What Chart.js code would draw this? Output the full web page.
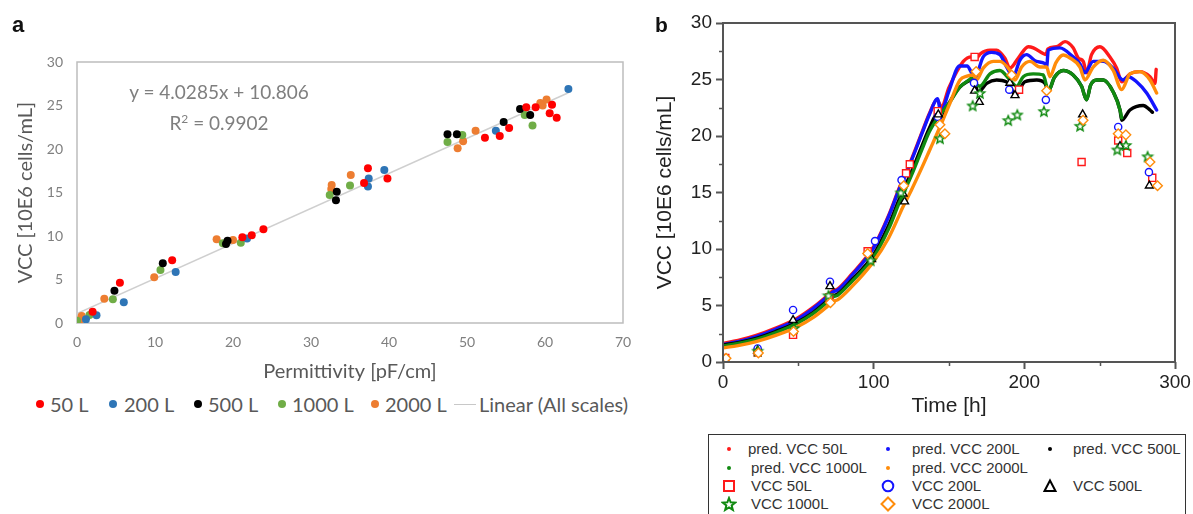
<!DOCTYPE html>
<html>
<head>
<meta charset="utf-8">
<title>VCC vs permittivity and VCC over time</title>
<script src="https://cdn.jsdelivr.net/npm/chart.js@4.4.1/dist/chart.umd.min.js"></script>
<style>
  html, body { margin: 0; padding: 0; background: #fff; }
  body { width: 1193px; height: 514px; position: relative; overflow: hidden; }
  .wrap { position: absolute; }
  #wrapA { left: 0; top: 0; width: 650px; height: 390px; }
  #wrapB { left: 645px; top: 0; width: 548px; height: 425px; }
  .panel { position: absolute; font-family: "Liberation Sans", Arial, sans-serif; font-weight: bold; color: #111; line-height: 1; }
  #eq { position: absolute; left: 119px; width: 200px; top: 78px; text-align: center;
        font-family: Lato, sans-serif; font-size: 19px; color: #7f7f7f; line-height: 27px; }
  .legA { position: absolute; font-family: Lato, sans-serif; font-size: 20px; color: #595959;
          line-height: 24px; top: 392px; white-space: nowrap; }
  .legA .dot { position: absolute; width: 8px; height: 8px; border-radius: 50%; top: 8px; }
  .legA .ln { position: absolute; width: 22px; height: 0; border-top: 1.5px solid #c8c8c8; top: 12px; }
  #legB { position: absolute; left: 708px; top: 434px; width: 478px; height: 100px;
          border: 1.5px solid #333; box-sizing: border-box; }
  .legB { position: absolute; font-family: "Liberation Sans", Arial, sans-serif; font-size: 15px;
          color: #333; white-space: nowrap; line-height: 18px; }
  .legB svg { position: absolute; }
</style>
</head>
<body>

<div class="wrap" id="wrapA"><canvas id="chartA" width="650" height="390"></canvas></div>
<div class="wrap" id="wrapB"><canvas id="chartB" width="548" height="425"></canvas></div>
<div class="panel" style="left:12px; top:14px; font-size:22px;">a</div>
<div class="panel" style="left:655px; top:14px; font-size:21px;">b</div>
<div id="eq"></div>
<div id="legendA"></div>
<div id="legB"></div>
<div id="legendB"></div>

<script>
// ---------------- panel a: VCC against permittivity, per bioreactor scale ----------------
const scaleNames  = ['50 L', '200 L', '500 L', '1000 L', '2000 L'];
const scaleColors = ['#ff0000', '#2e75b6', '#000000', '#70ad47', '#ed7d31'];

const perm50  = [2.0, 5.5, 12.2, 21.2, 22.4, 23.9, 36.8, 37.3, 39.8, 52.3, 54.2, 55.4, 57.6, 58.8, 60.6, 60.9, 61.5];
const vcc50   = [1.3, 4.63, 7.2, 9.85, 10.1, 10.77, 16.1, 17.8, 16.6, 21.3, 21.5, 22.4, 24.8, 24.8, 24.1, 25.1, 23.6];

const perm200 = [1.15, 2.5, 6.0, 12.65, 21.8, 37.3, 37.4, 39.4, 53.7, 63.0];
const vcc200  = [0.42, 0.88, 2.38, 5.86, 9.7, 15.7, 16.6, 17.6, 22.1, 26.9];

const perm500 = [4.8, 11.0, 19.1, 19.3, 33.2, 33.3, 47.5, 48.7, 54.7, 56.8, 58.1];
const vcc500  = [3.71, 6.86, 9.08, 9.46, 14.1, 15.1, 21.7, 21.7, 23.1, 24.6, 23.9];

const perm1000 = [0.0, 1.6, 4.6, 10.7, 18.7, 21.0, 32.4, 35.0, 47.5, 49.4, 57.4, 58.4];
const vcc1000  = [0.26, 0.92, 2.72, 6.09, 9.16, 9.23, 14.7, 15.8, 20.8, 21.6, 23.9, 22.7];

const perm2000 = [0.4, 0.6, 3.5, 9.9, 17.9, 20.0, 32.6, 32.65, 35.1, 48.8, 49.5, 51.1, 59.4, 59.7, 60.2];
const vcc2000  = [0.35, 0.8, 2.8, 5.25, 9.62, 9.54, 15.4, 15.85, 17.0, 20.1, 20.9, 22.1, 25.3, 25.0, 25.7];

const permSets = [perm50, perm200, perm500, perm1000, perm2000];
const vccSets  = [vcc50, vcc200, vcc500, vcc1000, vcc2000];

// linear fit over all scales (coefficients reported in 10E5 cells/mL)
const fitSlope = 4.0285, fitIntercept = 10.806, fitR2 = 0.9902;
const fitUnit = 0.1;              // 10E5 -> 10E6 cells/mL
const fitRange = [0, 63];         // permittivity span of the data

const permTicks = { min: 0, max: 70, step: 10 };
const vccTicksA = { min: 0, max: 30, step: 5 };

// ---------------- panel b: predicted and measured VCC over culture time ----------------
const predNames  = ['pred. VCC 50L', 'pred. VCC 200L', 'pred. VCC 500L', 'pred. VCC 1000L', 'pred. VCC 2000L'];
const measNames  = ['VCC 50L', 'VCC 200L', 'VCC 500L', 'VCC 1000L', 'VCC 2000L'];
const runColors  = ['#ff1a1a', '#1414ff', '#000000', '#118a11', '#ff8c0a'];

const tPred50 = [0, 10, 22, 35, 49, 60, 70, 73, 76, 85, 100, 110, 117, 119, 125, 132, 137, 142, 145, 150, 159.5, 165, 168.3, 171, 177.2, 181.6, 187, 190.4, 196, 202.6, 206, 212.5, 214.5, 215.5, 221.4, 227, 232.4, 235.8, 239.1, 241.3, 244.6, 250.2, 256.8, 261.3, 264.6, 270.1, 276.7, 283.4, 286.7, 287.5];
const vPred50 = [1.65, 1.9, 2.35, 3.0, 3.85, 4.85, 5.95, 6.3, 6.45, 7.7, 10.2, 13.0, 15.4, 16.0, 17.9, 20.3, 22.0, 23.2, 22.6, 24.3, 26.6, 27.0, 26.9, 27.3, 27.6, 27.6, 26.9, 26.0, 26.9, 27.9, 27.8, 27.3, 27.2, 27.7, 27.9, 28.35, 27.8, 26.9, 26.6, 25.6, 27.2, 27.9, 27.0, 26.0, 24.8, 25.5, 25.7, 25.25, 24.66, 25.9];

const tPred200 = [0, 10, 22, 35, 49, 60, 70, 73, 76, 85, 100, 110, 117, 119, 125, 132, 137, 142.5, 144.5, 150, 157, 162, 165, 167.2, 172.7, 178.3, 183.8, 188.3, 192.6, 197, 201.5, 208, 213.7, 214.8, 215.9, 223.6, 232.4, 236.9, 240.2, 245.7, 252.4, 259, 265.6, 269, 274.5, 281.2, 287.8];
const vPred200 = [1.55, 1.8, 2.25, 2.9, 3.75, 4.75, 5.85, 6.2, 6.35, 7.6, 10.1, 12.9, 15.3, 15.9, 17.8, 20.2, 21.9, 23.3, 22.1, 24.0, 26.2, 26.2, 25.6, 25.2, 27.0, 27.4, 27.2, 26.1, 25.25, 26.7, 27.2, 26.6, 26.4, 26.1, 27.6, 27.8, 27.0, 26.4, 25.6, 26.6, 26.6, 26.0, 24.96, 25.25, 24.8, 23.8, 22.3];

const tPred500 = [0, 10, 22, 35, 49, 60, 70, 73, 76, 85, 100, 110, 117, 119, 125, 132, 137, 142, 145, 150, 157, 162, 166.1, 169.4, 175, 181.6, 188, 190.4, 193.8, 200.4, 208.2, 213.7, 216, 220, 225.8, 232.4, 238, 241.3, 244, 248, 252.4, 259, 263.5, 264.6, 270.1, 278.9, 283.4, 285];
const vPred500 = [1.5, 1.72, 2.1, 2.7, 3.5, 4.4, 5.5, 5.85, 6.0, 7.2, 9.5, 12.1, 14.4, 15.0, 16.8, 19.1, 20.7, 21.9, 21.6, 22.9, 24.3, 24.8, 25.0, 23.9, 24.66, 24.96, 24.8, 24.5, 23.6, 24.8, 24.96, 24.66, 24.0, 25.2, 25.8, 25.4, 24.4, 23.2, 24.5, 24.96, 24.96, 23.9, 22.3, 21.4, 22.3, 22.7, 22.3, 22.1];

const tPred1000 = [0, 10, 22, 35, 49, 60, 70, 73, 76, 85, 100, 110, 117, 119, 125, 132, 137, 144, 150.6, 157, 163.3, 166.1, 167.2, 170.5, 177.2, 183.8, 190.4, 194.9, 199.3, 205.9, 212.5, 216, 220, 225.8, 232.4, 238, 241.3, 244, 248, 252.4, 259, 263.5, 264.6];
const vPred1000 = [1.42, 1.65, 2.0, 2.6, 3.4, 4.3, 5.4, 5.75, 5.9, 7.05, 9.3, 11.8, 14.1, 14.7, 16.5, 18.8, 20.4, 21.9, 23.0, 24.3, 24.96, 25.25, 24.8, 24.4, 25.5, 25.8, 24.96, 24.4, 25.25, 25.5, 25.4, 24.0, 25.2, 25.8, 25.4, 24.4, 23.2, 24.5, 24.96, 24.96, 23.9, 22.3, 21.6];

const tPred2000 = [0, 10, 22, 35, 49, 60, 70, 73, 76, 85, 100, 110, 117, 119, 125, 132, 137, 144, 150.6, 157.3, 162, 166.1, 168.3, 172.7, 179.4, 183.8, 190.4, 193.8, 198.2, 203.7, 210.4, 214.8, 217, 221, 225.8, 230.3, 236.9, 240.2, 245.7, 252.4, 259, 264.6, 270.1, 276.7, 283.4, 287.8];
const vPred2000 = [1.25, 1.45, 1.8, 2.35, 3.1, 3.95, 5.0, 5.35, 5.5, 6.6, 8.9, 11.0, 13.0, 13.6, 15.2, 17.2, 18.7, 20.8, 22.9, 24.96, 25.3, 25.4, 24.96, 26.0, 26.6, 26.6, 25.8, 24.96, 26.1, 26.6, 26.1, 26.1, 25.25, 26.5, 27.17, 26.9, 26.1, 24.96, 26.1, 26.7, 25.8, 24.1, 25.5, 25.7, 24.96, 23.8];

const tMeas50 = [1.5, 23, 46.5, 70.5, 96, 121.5, 124, 142.5, 167, 196.5, 238, 262.3, 268.3, 284.9];
const vMeas50 = [0.35, 0.85, 2.4, 5.7, 9.8, 16.7, 17.5, 22.2, 27.0, 24.1, 17.7, 19.6, 18.5, 16.3];

const tMeas200 = [23, 46.5, 71, 100.9, 118.5, 142.5, 166.6, 190, 214.3, 262.3, 282.7];
const vMeas200 = [1.2, 4.6, 7.1, 10.7, 16.1, 21.7, 24.7, 24.1, 23.2, 20.8, 16.8];

const tMeas500 = [23, 46.5, 71, 98.6, 119.5, 120.5, 142.9, 167, 170.1, 190.4, 193.8, 238.7, 263.5, 283];
const vMeas500 = [1.0, 3.7, 6.7, 9.1, 14.9, 14.2, 21.9, 24.0, 23.0, 24.7, 23.6, 21.9, 19.1, 15.6];

const tMeas1000 = [23, 47, 70, 98, 118, 144, 165.7, 170.5, 189.3, 195.3, 213, 237, 261.7, 267.4, 281.8];
const vMeas1000 = [1.0, 3.0, 5.9, 9.0, 15.0, 19.8, 22.7, 23.8, 21.4, 21.9, 22.2, 20.9, 18.8, 19.2, 18.2];

const tMeas2000 = [2, 23.5, 46.8, 71.3, 96, 120, 144, 147.3, 168, 191.6, 214.8, 239, 262.3, 267.4, 283.4, 288.4];
const vMeas2000 = [0.33, 0.8, 2.7, 5.25, 9.6, 15.6, 21.0, 20.2, 25.7, 25.4, 24.0, 21.4, 20.2, 20.1, 17.7, 15.6];

const tPredSets = [tPred50, tPred200, tPred500, tPred1000, tPred2000];
const vPredSets = [vPred50, vPred200, vPred500, vPred1000, vPred2000];
const tMeasSets = [tMeas50, tMeas200, tMeas500, tMeas1000, tMeas2000];
const vMeasSets = [vMeas50, vMeas200, vMeas500, vMeas1000, vMeas2000];

const timeTicks = { min: 0, max: 300, step: 100 };
const vccTicksB = { min: 0, max: 30, step: 5 };

// ---------------------------------------------------------------------------------------
Chart.defaults.animation = false;
Chart.defaults.responsive = false;
Chart.defaults.devicePixelRatio = 1;

const toPoints = (xs, ys) => xs.map((x, i) => ({ x: x, y: ys[i] }));

// ---- panel a chart ----
const frameA = {
  id: 'frameA',
  beforeDatasetsDraw(chart) {
    const { ctx, chartArea: a } = chart;
    ctx.save();
    ctx.strokeStyle = '#bdbdbd';
    ctx.lineWidth = 1.5;
    ctx.strokeRect(a.left, a.top, a.right - a.left, a.bottom - a.top);
    ctx.restore();
  }
};

const fitLine = fitRange.map(x => ({ x: x, y: (fitSlope * x + fitIntercept) * fitUnit }));

const datasetsA = scaleNames.map((name, i) => ({
  label: name,
  data: toPoints(permSets[i], vccSets[i]),
  backgroundColor: scaleColors[i],
  borderColor: scaleColors[i],
  pointRadius: 4,
  pointHoverRadius: 4,
  borderWidth: 0,
  order: 1
}));
datasetsA.push({
  label: 'Linear (All scales)',
  data: fitLine,
  showLine: true,
  borderColor: '#cfcfcf',
  borderWidth: 1.5,
  pointRadius: 0,
  order: 10
});

new Chart(document.getElementById('chartA'), {
  type: 'scatter',
  data: { datasets: datasetsA },
  options: {
    layout: { padding: { left: 0, right: 27, top: 62, bottom: 0 } },
    plugins: { legend: { display: false }, tooltip: { enabled: false } },
    scales: {
      x: {
        type: 'linear', min: permTicks.min, max: permTicks.max,
        ticks: { stepSize: permTicks.step, color: '#7f7f7f', font: { family: 'Lato', size: 14 }, padding: 11 },
        grid: { display: false, drawTicks: false },
        border: { display: false },
        title: { display: true, text: 'Permittivity [pF/cm]', color: '#595959',
                 font: { family: 'Lato', size: 20 }, padding: { top: 0, bottom: 6 } },
        afterFit(s) { s.height = 67; }
      },
      y: {
        type: 'linear', min: vccTicksA.min, max: vccTicksA.max,
        ticks: { stepSize: vccTicksA.step, color: '#7f7f7f', font: { family: 'Lato', size: 14 }, padding: 14 },
        grid: { display: false, drawTicks: false },
        border: { display: false },
        title: { display: true, text: 'VCC [10E6 cells/mL]', color: '#595959',
                 font: { family: 'Lato', size: 20 }, padding: { top: 14, bottom: 0 } },
        afterFit(s) { s.width = 77; }
      }
    }
  },
  plugins: [frameA]
});

document.getElementById('eq').innerHTML =
  'y = ' + fitSlope + 'x + ' + fitIntercept + '<br>R<sup style="font-size:12px;vertical-align:7px;">2</sup> = ' + fitR2;

// legend of panel a
(function () {
  const host = document.getElementById('legendA');
  const dotX = [36, 109, 194, 278, 371];
  const textX = [50, 124, 208, 292, 385];
  scaleNames.forEach((name, i) => {
    const d = document.createElement('div');
    d.className = 'legA';
    d.style.left = '0px';
    d.innerHTML = '<span class="dot" style="left:' + dotX[i] + 'px;background:' + scaleColors[i] +
                  '"></span><span style="position:absolute;left:' + textX[i] + 'px;">' + name + '</span>';
    host.appendChild(d);
  });
  const d = document.createElement('div');
  d.className = 'legA';
  d.style.left = '0px';
  d.innerHTML = '<span class="ln" style="left:454px;"></span><span style="position:absolute;left:479px;">' +
                datasetsA[datasetsA.length - 1].label + '</span>';
  host.appendChild(d);
})();

// ---- panel b chart ----
const frameColor = '#555';

function starImage(color, r) {
  const s = Math.ceil(r * 2 + 4);
  const c = document.createElement('canvas');
  c.width = s; c.height = s;
  const g = c.getContext('2d');
  g.translate(s / 2, s / 2 + 0.6);
  g.beginPath();
  for (let k = 0; k < 10; k++) {
    const ang = -Math.PI / 2 + k * Math.PI / 5;
    const rr = k % 2 ? r * 0.45 : r;
    g.lineTo(rr * Math.cos(ang), rr * Math.sin(ang));
  }
  g.closePath();
  g.fillStyle = '#fff';
  g.fill();
  g.strokeStyle = color;
  g.lineWidth = 1.5;
  g.stroke();
  return c;
}

const axesB = {
  id: 'axesB',
  afterDraw(chart) {
    const { ctx, chartArea: a, scales: { x, y } } = chart;
    ctx.save();
    ctx.strokeStyle = frameColor;
    ctx.lineWidth = 1.5;
    ctx.beginPath();
    for (let v = vccTicksB.min + vccTicksB.step / 2; v < vccTicksB.max; v += vccTicksB.step) {
      const py = Math.round(y.getPixelForValue(v)) + 0.5;
      ctx.moveTo(a.left - 4, py); ctx.lineTo(a.left, py);
    }
    for (let t = timeTicks.min + timeTicks.step / 2; t < timeTicks.max; t += timeTicks.step) {
      const px = Math.round(x.getPixelForValue(t)) + 0.5;
      ctx.moveTo(px, a.bottom); ctx.lineTo(px, a.bottom + 4);
    }
    ctx.stroke();
    ctx.lineWidth = 2;
    ctx.strokeRect(a.left, a.top, a.right - a.left, a.bottom - a.top);
    ctx.restore();
  }
};

const markerStyles = ['rect', 'circle', 'triangle', 'star', 'rectRot'];
const markerRadius = [5, 3.6, 4.6, 5, 4.8];

const datasetsB = [];
predNames.forEach((name, i) => {
  datasetsB.push({
    label: name,
    data: toPoints(tPredSets[i], vPredSets[i]),
    showLine: true,
    borderColor: runColors[i],
    borderWidth: 3.4,
    pointRadius: 0,
    cubicInterpolationMode: 'monotone',
    borderCapStyle: 'round',
    borderJoinStyle: 'round',
    order: 20 - [0, 1, 2, 3, 4][i]
  });
});
measNames.forEach((name, i) => {
  const style = markerStyles[i] === 'star' ? starImage(runColors[i], markerRadius[i]) : markerStyles[i];
  datasetsB.push({
    label: name,
    data: toPoints(tMeasSets[i], vMeasSets[i]),
    showLine: false,
    pointStyle: style,
    pointRadius: markerRadius[i],
    pointHoverRadius: markerRadius[i],
    pointBorderColor: runColors[i],
    pointBackgroundColor: '#ffffff',
    pointBorderWidth: 1.4,
    borderColor: runColors[i],
    order: 5 - i
  });
});

const tickFontB = { family: '"Liberation Sans", Arial, sans-serif', size: 19 };
const titleFontB = { family: '"Liberation Sans", Arial, sans-serif', size: 21 };

new Chart(document.getElementById('chartB'), {
  type: 'scatter',
  data: { datasets: datasetsB },
  options: {
    layout: { padding: { left: 0, right: 18, top: 23, bottom: 0 } },
    plugins: { legend: { display: false }, tooltip: { enabled: false } },
    scales: {
      x: {
        type: 'linear', min: timeTicks.min, max: timeTicks.max,
        ticks: { stepSize: timeTicks.step, color: '#222', font: tickFontB, padding: 2 },
        grid: { display: true, drawOnChartArea: false, drawTicks: true, tickLength: 7, tickWidth: 2, tickColor: frameColor },
        border: { display: false },
        title: { display: true, text: 'Time [h]', color: '#222', font: titleFontB, padding: { top: 0, bottom: 6 } },
        afterFit(s) { s.height = 63; }
      },
      y: {
        type: 'linear', min: vccTicksB.min, max: vccTicksB.max,
        ticks: { stepSize: vccTicksB.step, color: '#222', font: tickFontB, padding: 4 },
        grid: { display: true, drawOnChartArea: false, drawTicks: true, tickLength: 7, tickWidth: 2, tickColor: frameColor },
        border: { display: false },
        title: { display: true, text: 'VCC [10E6 cells/mL]', color: '#222', font: titleFontB, padding: { top: 8, bottom: 0 } },
        afterFit(s) { s.width = 78; }
      }
    }
  },
  plugins: [axesB]
});

// legend of panel b
(function () {
  const host = document.getElementById('legendB');
  const rowY = [449, 468, 486, 504];
  const colMark = [729, 888, 1050];
  const colText = [748, 912, 1073];
  // rows: predicted runs (3 + 2), then measured runs (3 + 2)
  const layout = [[0, 0, 0], [0, 1, 1], [0, 2, 2], [1, 3, 0], [1, 4, 1],
                  [2, 0, 0], [2, 1, 1], [2, 2, 2], [3, 3, 0], [3, 4, 1]];
  function svgFor(kind, color, cx, cy) {
    const s = 16, h = s / 2;
    let shape = '';
    if (kind === 'dot') shape = '<circle cx="8" cy="8" r="2" fill="' + color + '"/>';
    else if (kind === 'rect') shape = '<rect x="3" y="3" width="10" height="10" fill="none" stroke="' + color + '" stroke-width="2"/>';
    else if (kind === 'circle') shape = '<circle cx="8" cy="8" r="5.3" fill="none" stroke="' + color + '" stroke-width="2"/>';
    else if (kind === 'triangle') shape = '<polygon points="8,2.5 13.5,13 2.5,13" fill="none" stroke="' + color + '" stroke-width="2"/>';
    else if (kind === 'star') {
      const p = [];
      for (let k = 0; k < 10; k++) {
        const ang = -Math.PI / 2 + k * Math.PI / 5, rr = k % 2 ? 2.8 : 6.6;
        p.push((8 + rr * Math.cos(ang)).toFixed(2) + ',' + (8.6 + rr * Math.sin(ang)).toFixed(2));
      }
      shape = '<polygon points="' + p.join(' ') + '" fill="none" stroke="' + color + '" stroke-width="2"/>';
    } else if (kind === 'rectRot') shape = '<polygon points="8,1.5 14.5,8 8,14.5 1.5,8" fill="none" stroke="' + color + '" stroke-width="2"/>';
    return '<svg width="' + s + '" height="' + s + '" style="left:' + (cx - h) + 'px;top:' + (cy - h) + 'px;">' + shape + '</svg>';
  }
  layout.forEach((it, n) => {
    const [row, run, col] = it;
    const isPred = n < 5;
    const kind = isPred ? 'dot' : markerStyles[run];
    const label = isPred ? predNames[run] : measNames[run];
    const tx = colText[col] + ((row === 1 || row >= 2) && col === 0 ? 3 : 0);
    const d = document.createElement('div');
    d.className = 'legB';
    d.style.left = '0px';
    d.style.top = '0px';
    d.innerHTML = svgFor(kind, runColors[run], colMark[col], rowY[row]) +
      '<span style="position:absolute;left:' + tx + 'px;top:' + (rowY[row] - 9) + 'px;">' + label + '</span>';
    host.appendChild(d);
  });
})();
</script>
</body>
</html>
